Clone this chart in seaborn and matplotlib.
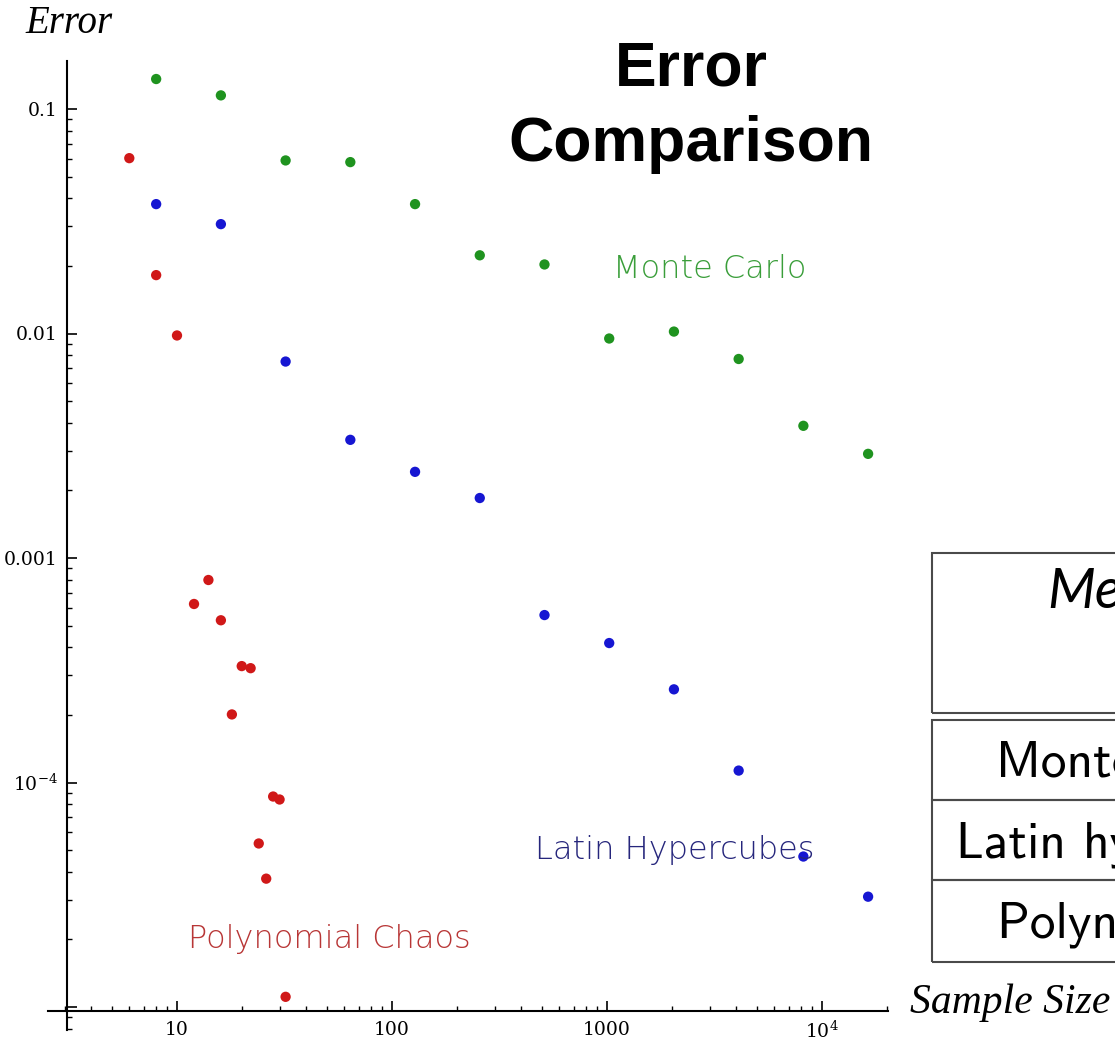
import matplotlib
matplotlib.use("Agg")
import matplotlib.pyplot as plt
import numpy as np
import pandas as pd
import seaborn as sns
from matplotlib.ticker import FixedLocator, FixedFormatter, LogLocator, NullFormatter
from matplotlib.patches import Rectangle

# Sample sizes and errors for each method
mc_n = [8, 16, 32, 64, 128, 256, 512, 1024, 2048, 4096, 8192, 16384]
mc_err = [0.136, 0.115, 0.059, 0.058, 0.0377, 0.0223, 0.0203, 0.0095,
          0.0102, 0.0077, 0.00388, 0.00291]

lh_n = [8, 16, 32, 64, 128, 256, 512, 1024, 2048, 4096, 8192, 16384]
lh_err = [0.0377, 0.0307, 0.0075, 0.00336, 0.00242, 0.00185, 0.000557,
          0.000418, 0.00026, 0.000113, 4.68e-5, 3.1e-5]

pc_n = [6, 8, 10, 12, 14, 16, 18, 20, 22, 24, 26, 28, 30, 32]
pc_err = [0.0604, 0.0182, 0.0098, 0.000624, 0.000798, 0.000528, 0.000201,
          0.00033, 0.000323, 5.35e-5, 3.73e-5, 8.66e-5, 8.4e-5, 1.11e-5]

methods = ["Monte Carlo", "Latin Hypercubes", "Polynomial Chaos"]
table_rows = ["Monte Carlo", "Latin hypercubes", "Polynomial chaos"]

x_ticks = [10, 100, 1000, 10000]
x_labels = ["10", "100", "1000", "$10^{4}$"]
y_ticks = [1e-5, 1e-4, 1e-3, 1e-2, 1e-1]
y_labels = ["", "$10^{-4}$", "0.001", "0.01", "0.1"]

dot_colors = {"Monte Carlo": "#1f931f", "Latin Hypercubes": "#1616d2",
              "Polynomial Chaos": "#d01818"}
label_colors = {"Monte Carlo": "#3a9e3a", "Latin Hypercubes": "#26267c",
                "Polynomial Chaos": "#b83636"}

df = pd.concat([
    pd.DataFrame({"n": mc_n, "err": mc_err, "method": methods[0]}),
    pd.DataFrame({"n": lh_n, "err": lh_err, "method": methods[1]}),
    pd.DataFrame({"n": pc_n, "err": pc_err, "method": methods[2]}),
], ignore_index=True)

sns.set_style("white")
plt.rcParams.update({
    "mathtext.fontset": "dejavuserif",
    "text.color": "black",
    "xtick.color": "black",
    "ytick.color": "black",
    "xtick.labelcolor": "black",
    "ytick.labelcolor": "black",
})

W, H = 1115, 1041
fig = plt.figure(figsize=(W / 100, H / 100), dpi=100)
fig.patch.set_facecolor("white")

def fx(px):
    return px / W

def fy(py):
    return 1 - py / H

# axes box in pixels: x 48..888, y 61..1030
ax = fig.add_axes([fx(48), fy(1030), (888 - 48) / W, (1030 - 61) / H])
ax.set_facecolor("white")

sns.scatterplot(data=df, x="n", y="err", hue="method", palette=dot_colors,
                s=55, edgecolor="none", legend=False, ax=ax, zorder=3)

ax.set_xscale("log")
ax.set_yscale("log")
ax.set_xlim(10 ** (1 + (48 - 177) / 215), 10 ** (1 + (888 - 177) / 215))
ax.set_ylim(10 ** (-1 - (1030 - 109) / 224.5), 10 ** (-1 - (61 - 109) / 224.5))

for side in ("top", "right"):
    ax.spines[side].set_visible(False)
ax.spines["left"].set_position(("data", 10 ** (1 + (67 - 177) / 215)))
ax.spines["bottom"].set_position(("data", 10 ** (-1 - (1011 - 109) / 224.5)))
for side in ("left", "bottom"):
    ax.spines[side].set_linewidth(1.5)
    ax.spines[side].set_color("black")

ax.xaxis.set_major_locator(FixedLocator(x_ticks))
ax.xaxis.set_major_formatter(FixedFormatter(x_labels))
ax.yaxis.set_major_locator(FixedLocator(y_ticks))
ax.yaxis.set_major_formatter(FixedFormatter(y_labels))
ax.xaxis.set_minor_locator(LogLocator(base=10, subs=np.arange(2, 10)))
ax.yaxis.set_minor_locator(LogLocator(base=10, subs=np.arange(2, 10)))
ax.xaxis.set_minor_formatter(NullFormatter())
ax.yaxis.set_minor_formatter(NullFormatter())
ax.tick_params(which="major", direction="in", length=7, width=1.2,
               color="black", labelcolor="black", labelsize=13.5, pad=7,
               bottom=True, left=True)
ax.tick_params(which="minor", direction="in", length=3.5, width=1.0,
               color="black", bottom=True, left=True)
for lab in ax.get_xticklabels() + ax.get_yticklabels():
    lab.set_family("DejaVu Serif")
ax.set_xlabel("")
ax.set_ylabel("")

# series labels
ax.text(1067, 0.01766, "Monte Carlo", color=label_colors["Monte Carlo"],
        fontsize=23, fontweight="light", family="DejaVu Sans", va="baseline")
ax.text(462, 4.56e-5, "Latin Hypercubes", color=label_colors["Latin Hypercubes"],
        fontsize=23, fontweight="light", family="DejaVu Sans", va="baseline")
ax.text(11.25, 1.83e-5, "Polynomial Chaos", color=label_colors["Polynomial Chaos"],
        fontsize=23, fontweight="light", family="DejaVu Sans", va="baseline")

# axis labels
fig.text(fx(25), fy(33), "Error", family="Liberation Serif", style="italic",
         fontsize=28, va="baseline", color="black")
fig.text(fx(910), fy(1013), "Sample Size", family="Liberation Serif",
         style="italic", fontsize=30, va="baseline", color="black")

# title
fig.text(fx(691), fy(86), "Error", family="Liberation Sans", fontweight="bold",
         fontsize=45, ha="center", va="baseline", color="black")
fig.text(fx(691), fy(161), "Comparison", family="Liberation Sans",
         fontweight="bold", fontsize=45, ha="center", va="baseline",
         color="black")

# method table on the right
edge = "#4a4a4a"
boxes = [(553, 713), (720, 800), (800, 880), (880, 962)]
for top, bottom in boxes:
    fig.add_artist(Rectangle((fx(932), fy(bottom)), (1300 - 932) / W,
                             (bottom - top) / H, transform=fig.transFigure,
                             fill=False, edgecolor=edge, linewidth=1.5))
fig.text(fx(1047), fy(608), "Method", family="Lato", style="italic",
         fontweight="normal", fontsize=40, va="baseline", color="black")
row_x = [996, 956, 997]
row_base = [777, 857, 938]
for name, x0, yb in zip(table_rows, row_x, row_base):
    fig.text(fx(x0), fy(yb), name, family="cmss10", fontsize=37,
             va="baseline", color="black")

fig.savefig("out.png", dpi=100, facecolor="white")
